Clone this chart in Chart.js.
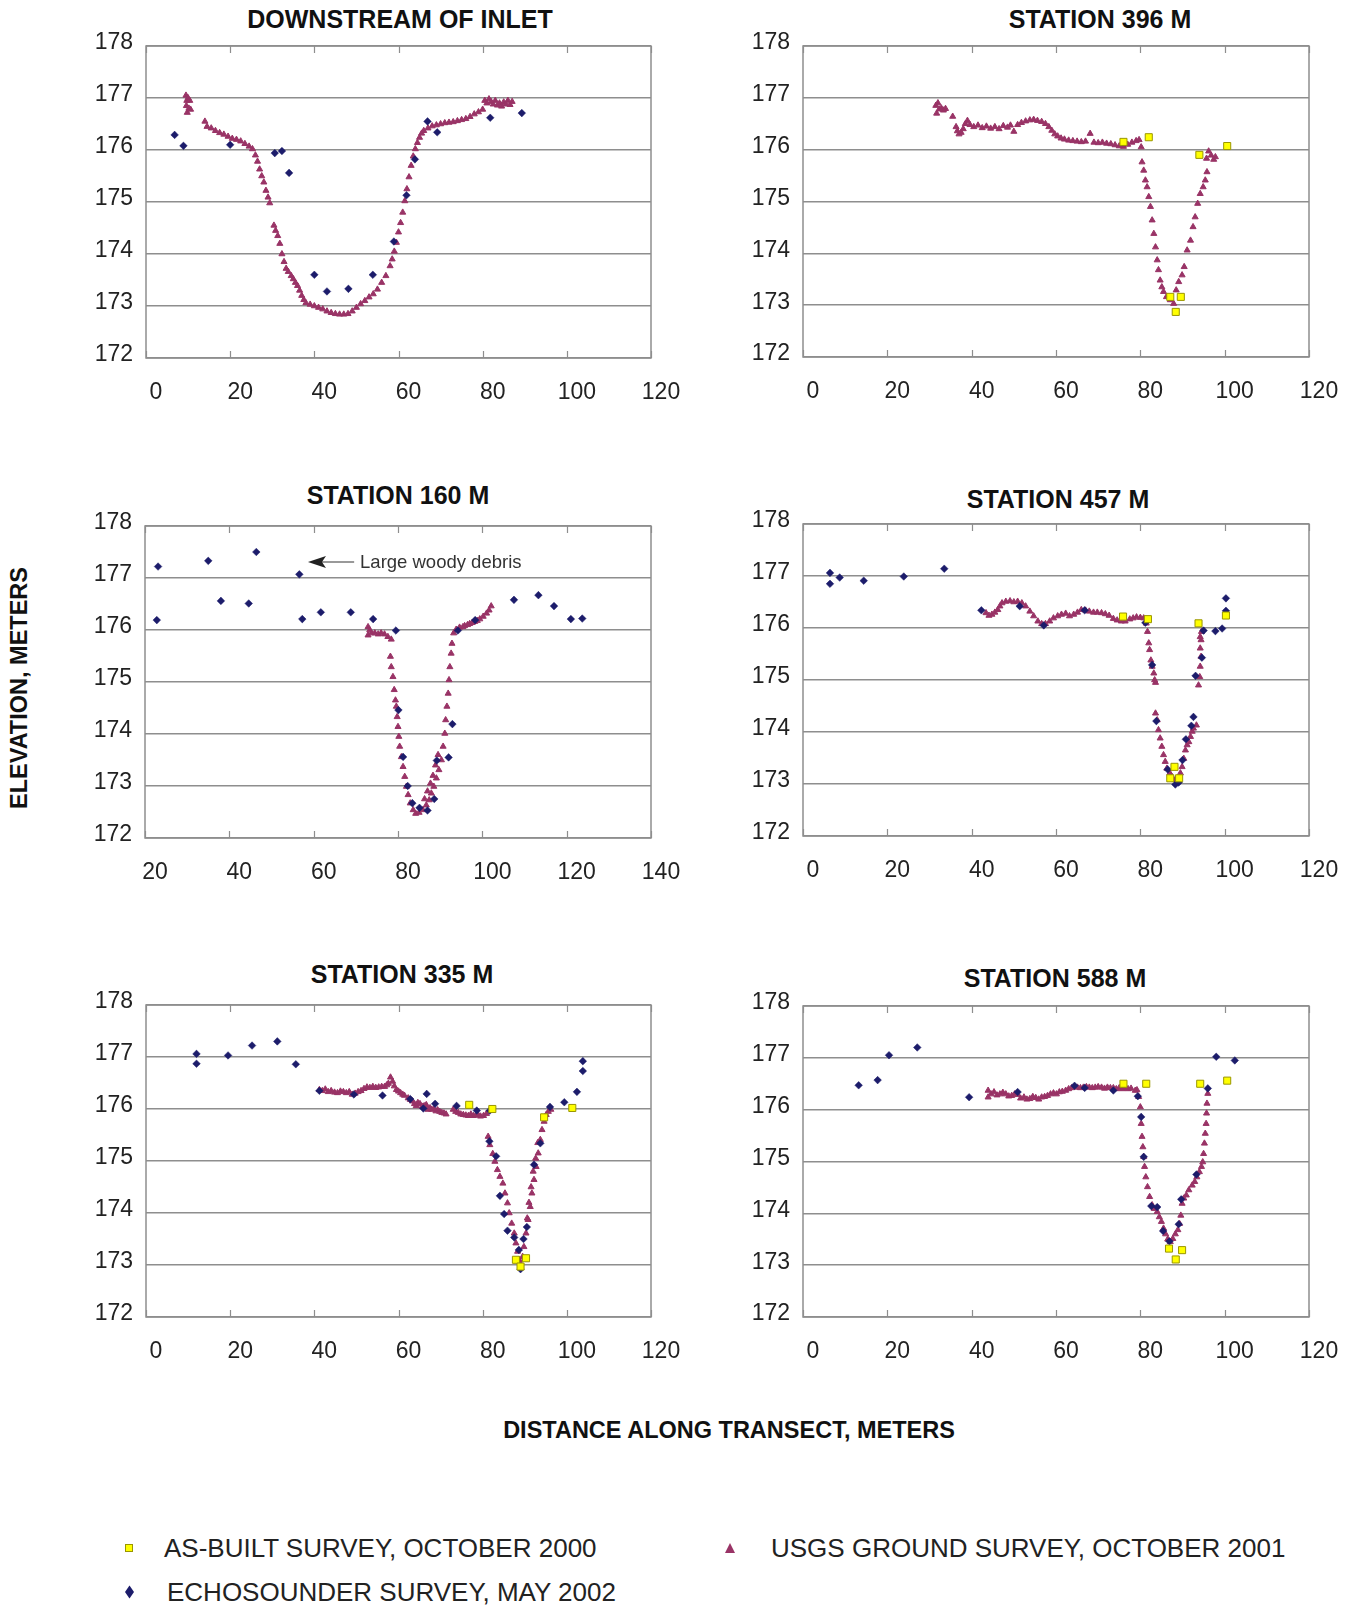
<!DOCTYPE html>
<html>
<head>
<meta charset="utf-8">
<title>Channel cross sections</title>
<script src="https://cdn.jsdelivr.net/npm/chart.js@4.4.1/dist/chart.umd.min.js"></script>
<style>
  html, body { margin: 0; padding: 0; background: #fff; }
  body { position: relative; width: 1363px; height: 1608px; overflow: hidden;
         font-family: "Liberation Sans", Arial, sans-serif; color: #1a1a1a; }
  canvas { position: absolute; }
  .ttl { position: absolute; font-weight: bold; font-size: 25px; line-height: 1; white-space: nowrap;
         transform: translate(-50%, -50%); color: #111; }
  .axis-title { position: absolute; font-weight: bold; font-size: 23.5px; line-height: 1; white-space: nowrap; color: #111; }
  .leg { position: absolute; font-size: 26px; line-height: 1; white-space: nowrap; transform: translateY(-50%); color: #222; }
  .mk { position: absolute; }
</style>
</head>
<body>

<div class="ttl" style="left:400px; top:19px;">DOWNSTREAM OF INLET</div>
<div class="ttl" style="left:1100px; top:19px;">STATION 396 M</div>
<div class="ttl" style="left:398px; top:495px;">STATION 160 M</div>
<div class="ttl" style="left:1058px; top:499px;">STATION 457 M</div>
<div class="ttl" style="left:402px; top:974px;">STATION 335 M</div>
<div class="ttl" style="left:1055px; top:978px;">STATION 588 M</div>

<canvas id="c1"></canvas>
<canvas id="c2"></canvas>
<canvas id="c3"></canvas>
<canvas id="c4"></canvas>
<canvas id="c5"></canvas>
<canvas id="c6"></canvas>

<div class="axis-title" style="left:20px; top:688px; transform: translate(-50%,-50%) rotate(-90deg);">ELEVATION, METERS</div>
<div class="axis-title" style="left:729px; top:1431px; transform: translate(-50%,-50%);">DISTANCE ALONG TRANSECT, METERS</div>

<!-- legend -->
<svg class="mk" style="left:124px; top:1543px;" width="10" height="10"><rect x="1.5" y="1.5" width="7" height="7" fill="#ffff00" stroke="#9a9600" stroke-width="1"/></svg>
<div class="leg" style="left:164px; top:1548px;">AS-BUILT SURVEY, OCTOBER 2000</div>
<svg class="mk" style="left:724px; top:1542px;" width="12" height="12"><polygon points="6,1 11,11 1,11" fill="#993366"/></svg>
<div class="leg" style="left:771px; top:1548px;">USGS GROUND SURVEY, OCTOBER 2001</div>
<svg class="mk" style="left:124px; top:1585px;" width="11" height="14"><polygon points="5.5,0.5 10,7 5.5,13.5 1,7" fill="#1c1c6b"/></svg>
<div class="leg" style="left:167px; top:1592px;">ECHOSOUNDER SURVEY, MAY 2002</div>

<script>
// ---------- axis ticks ----------
const elevationTicks = [172, 173, 174, 175, 176, 177, 178];
const distanceTicks = [0, 20, 40, 60, 80, 100, 120];
const distanceTicks160 = [20, 40, 60, 80, 100, 120, 140];

// ---------- DOWNSTREAM OF INLET ----------
const inletGround = [
  [9.5,177.05],[9.6,176.85],[9.7,176.95],[9.8,176.72],[10.0,177.0],[10.2,176.8],[10.4,176.95],[10.6,176.78],
  [14.0,176.55],[14.5,176.45],[15.5,176.42],[16.5,176.37],[17.5,176.33],[18.5,176.3],[19.5,176.26],[20.5,176.22],
  [21.5,176.2],[22.5,176.17],[23.5,176.12],[24.5,176.07],[25.3,176.02],[26.0,175.9],[26.5,175.78],[27.0,175.63],
  [27.5,175.5],[28.0,175.38],[28.5,175.22],[29.0,175.09],[29.4,174.98],
  [30.4,174.55],[30.8,174.45],[31.3,174.35],[31.8,174.2],[32.3,174.0],[32.8,173.85],[33.3,173.72],[33.8,173.66],
  [34.5,173.58],[35.0,173.52],[35.5,173.45],[36.0,173.39],[36.5,173.3],[37.0,173.2],[37.5,173.12],[38.0,173.06],
  [39.0,173.03],[40.0,173.0],[41.0,172.97],[42.0,172.94],[43.0,172.9],[44.0,172.87],[45.0,172.85],[46.0,172.84],
  [47.0,172.84],[48.0,172.85],[49.0,172.9],[50.0,172.97],[51.0,173.04],[52.0,173.1],[53.0,173.17],[54.0,173.23],
  [55.0,173.32],[56.0,173.45],[57.0,173.58],[58.0,173.77],[58.5,173.9],[59.0,174.05],[59.5,174.22],[60.0,174.42],
  [60.5,174.6],[61.0,174.8],[61.5,175.02],[62.0,175.25],[62.5,175.48],[63.0,175.7],[63.5,175.88],[64.0,176.02],
  [64.5,176.14],[65.0,176.24],[65.5,176.32],[66.0,176.37],[67.0,176.42],[68.0,176.46],[69.0,176.48],[70.0,176.5],
  [71.0,176.52],[72.0,176.53],[73.0,176.54],[74.0,176.56],[75.0,176.58],[76.0,176.6],[77.0,176.64],[78.0,176.69],
  [79.0,176.73],[80.0,176.78],[80.5,176.95],[81.0,176.9],[81.5,176.98],[82.0,176.93],[82.5,176.88],[83.0,176.95],
  [83.5,176.86],[84.0,176.9],[84.5,176.84],[85.0,176.92],[85.5,176.88],[86.0,176.95],[86.5,176.87],[87.0,176.93]
];
const inletEcho = [
  [6.8,176.29],[8.9,176.08],[20.0,176.1],[30.6,175.94],[32.3,175.98],[34.0,175.56],[40.0,173.6],[43.0,173.28],
  [48.1,173.33],[53.9,173.6],[58.9,174.24],[61.9,175.13],[63.9,175.82],[66.9,176.55],[69.2,176.34],[81.8,176.62],
  [89.3,176.71]
];
const inletAsBuilt = [];

// ---------- STATION 396 M ----------
const sta396Ground = [
  [31.5,176.85],[31.7,176.7],[32.0,176.9],[32.3,176.78],[32.8,176.8],[33.3,176.76],[33.8,176.79],[35.5,176.64],
  [36.3,176.44],[36.6,176.36],[37.0,176.3],[37.5,176.33],[38.0,176.4],[38.5,176.5],[39.0,176.56],[39.6,176.48],
  [40.5,176.44],[41.5,176.47],[42.5,176.42],[43.5,176.45],[44.5,176.41],[45.5,176.44],[46.5,176.4],[47.5,176.46],
  [48.5,176.43],[49.2,176.47],[50.0,176.35],[50.9,176.48],[51.8,176.52],[52.8,176.55],[53.8,176.57],[54.7,176.58],
  [55.6,176.56],[56.6,176.54],[57.5,176.5],[58.3,176.44],[59.0,176.37],[59.7,176.3],[60.4,176.26],[61.2,176.22],
  [62.0,176.2],[63.0,176.18],[64.0,176.17],[65.0,176.16],[66.0,176.15],[67.0,176.16],[68.1,176.31],[69.0,176.14],
  [70.0,176.13],[71.0,176.14],[72.0,176.12],[73.0,176.11],[74.0,176.09],[75.0,176.07],[76.0,176.06],[77.0,176.1],
  [78.0,176.14],[79.0,176.17],[79.7,176.19],[80.2,176.05],[80.4,175.76],[80.8,175.6],[81.2,175.41],[81.6,175.28],
  [82.0,175.09],[82.4,174.9],[82.8,174.64],[83.2,174.38],[83.6,174.12],[84.0,173.87],[84.3,173.68],[84.7,173.48],
  [85.1,173.35],[85.5,173.26],[86.2,173.16],[87.1,173.1],[87.9,173.03],[88.5,173.29],[89.1,173.45],[89.9,173.58],
  [90.4,173.74],[91.1,174.06],[91.9,174.25],[92.5,174.51],[93.0,174.7],[93.6,174.96],[94.2,175.15],[94.9,175.28],
  [95.4,175.41],[95.8,175.57],[95.7,175.83],[96.2,175.97],[96.8,175.89],[97.4,175.81],[97.8,175.86]
];
const sta396Echo = [];
const sta396AsBuilt = [
  [76.0,176.15],[82.0,176.24],[94.0,175.9],[100.6,176.07],[87.1,173.16],[89.6,173.16],[88.4,172.87]
];

// ---------- STATION 160 M ----------
const sta160Ground = [
  [72.9,176.06],[72.9,175.9],[73.3,176.0],[73.7,175.94],[74.5,175.94],[75.3,175.92],[76.0,175.94],[76.8,175.92],
  [77.6,175.87],[78.4,175.82],
  [78.2,175.49],[78.4,175.29],[78.8,175.1],[79.1,174.85],[79.4,174.65],[79.6,174.53],[79.8,174.33],[80.0,174.14],
  [80.2,173.95],[80.4,173.76],[80.8,173.56],[81.2,173.37],[81.6,173.18],[82.0,172.99],[82.4,172.83],[82.9,172.67],
  [83.6,172.54],[84.2,172.47],[85.0,172.49],[85.9,172.54],[86.3,172.75],[86.7,172.63],[87.0,172.9],[87.4,172.73],
  [87.7,173.05],[87.9,172.86],[88.3,173.2],[88.5,172.99],[88.9,173.4],[89.1,173.15],[89.5,173.6],[89.7,173.31],
  [90.3,173.5],[90.7,173.76],[91.1,174.01],[91.3,174.27],[91.6,174.53],[91.9,174.78],[92.1,175.04],[92.3,175.29],
  [92.6,175.55],[92.8,175.74],[93.2,175.94],[93.8,176.01],[94.6,176.05],[95.4,176.06],[95.8,176.08],[96.5,176.1],
  [97.0,176.12],[97.6,176.14],[98.2,176.16],[98.8,176.18],[99.4,176.21],[100.2,176.26],[101.0,176.32],[101.6,176.38],
  [102.1,176.46]
];
const sta160Echo = [
  [23.1,177.22],[22.8,176.19],[35.0,177.33],[38.0,176.56],[44.6,176.51],[46.4,177.5],[56.6,177.07],[57.3,176.21],
  [61.7,176.34],[68.8,176.34],[74.1,176.21],[79.5,175.99],[80.1,174.46],[81.2,173.56],[82.3,173.0],[83.4,172.67],
  [85.1,172.58],[87.0,172.53],[88.6,172.75],[89.2,173.49],[92.0,173.55],[92.9,174.19],[94.2,175.99],[98.3,176.19],
  [107.5,176.58],[113.3,176.67],[117.0,176.46],[121.0,176.21],[123.7,176.22]
];
const sta160AsBuilt = [];

// ---------- STATION 457 M ----------
const sta457Ground = [
  [43.4,176.29],[44.1,176.24],[44.8,176.26],[45.5,176.3],[46.2,176.35],[46.7,176.42],[47.2,176.48],[48.1,176.51],
  [49.1,176.52],[50.0,176.5],[50.9,176.51],[51.9,176.48],[52.8,176.42],[53.8,176.32],[54.7,176.23],[55.7,176.13],
  [56.6,176.08],[57.5,176.08],[58.5,176.13],[59.4,176.19],[60.4,176.23],[61.3,176.26],[62.3,176.28],[63.2,176.23],
  [64.2,176.26],[65.1,176.3],[66.0,176.35],[67.0,176.34],[67.9,176.32],[68.9,176.3],[69.8,176.3],[70.8,176.29],
  [71.7,176.27],[72.6,176.24],[73.6,176.18],[74.5,176.15],[75.5,176.13],[76.4,176.13],[77.5,176.17],[78.3,176.19],
  [79.1,176.21],[80.0,176.2],[80.8,176.19],[81.4,176.09],[81.7,175.93],[82.0,175.71],[82.2,175.58],[82.5,175.38],
  [82.8,175.26],[83.2,175.13],[83.4,175.0],[83.6,174.95],
  [83.6,174.36],[84.0,174.23],[84.3,174.04],[84.7,173.88],[85.1,173.72],[85.5,173.56],[85.9,173.43],[86.3,173.3],
  [87.0,173.21],[87.5,173.14],[88.3,173.08],[89.1,173.11],[89.5,173.21],[89.9,173.33],[90.3,173.49],[90.7,173.65],
  [91.1,173.75],[91.5,173.81],[91.9,173.91],[92.3,174.01],[92.6,174.07],[93.3,174.13],
  [93.8,174.9],[94.1,175.06],[94.2,175.26],[94.4,175.45],[94.2,175.61],[94.4,175.77],[94.5,175.93],[94.2,175.83]
];
const sta457Echo = [
  [6.4,177.06],[6.4,176.85],[8.7,176.97],[14.4,176.91],[23.9,176.99],[33.5,177.14],[42.3,176.34],[51.4,176.42],
  [57.1,176.05],[66.8,176.34],[81.2,176.1],[82.8,175.29],[83.8,174.21],[86.5,173.28],[88.3,172.99],[89.1,173.03],
  [90.0,173.46],[90.8,173.86],[92.1,174.12],[92.6,174.29],[93.1,175.08],[94.6,175.43],[95.0,175.95],[97.8,175.94],
  [99.4,175.99],[100.3,176.57],[100.3,176.33]
];
const sta457AsBuilt = [
  [75.9,176.22],[81.8,176.17],[93.8,176.09],[100.3,176.24],[88.1,173.33],[87.1,173.11],[89.2,173.11]
];

// ---------- STATION 335 M ----------
const sta335Ground = [
  [41.2,176.37],[41.9,176.35],[42.6,176.38],[43.3,176.33],[44.0,176.35],[44.8,176.32],[45.5,176.31],[46.2,176.34],
  [46.9,176.33],[47.6,176.31],[48.3,176.33],[49.0,176.28],[49.7,176.3],[50.4,176.33],[51.1,176.35],[51.8,176.39],
  [52.5,176.42],[53.2,176.41],[53.9,176.43],[54.6,176.41],[55.3,176.42],[56.0,176.43],[56.7,176.43],[57.2,176.46],
  [57.6,176.49],[58.1,176.61],[58.6,176.53],[59.0,176.44],[59.5,176.37],[60.0,176.34],[60.5,176.31],[61.0,176.28],
  [61.4,176.26],[62.3,176.21],[62.8,176.18],[63.3,176.15],[63.8,176.1],[64.2,176.06],[64.6,176.12],[65.1,176.1],
  [65.6,176.05],[66.1,176.06],[66.6,176.08],[67.0,175.99],[67.5,176.02],[67.9,175.99],[68.4,176.0],[68.9,175.96],
  [69.3,175.98],[69.8,175.95],[70.3,175.93],[70.8,175.92],[71.3,175.9],
  [73.0,175.99],[73.6,175.95],[74.2,175.93],[74.8,175.9],[75.4,175.89],[76.0,175.88],[76.6,175.87],[77.2,175.9],
  [77.8,175.87],[78.4,175.88],[78.9,175.89],[79.5,175.86],[80.2,175.87],[80.9,175.91],
  [81.3,175.47],[81.7,175.31],[82.4,175.14],[82.9,174.99],[83.5,174.83],[84.1,174.7],[84.8,174.57],[85.3,174.38],
  [85.9,174.19],[86.3,174.0],[86.9,173.8],[87.5,173.61],[87.9,173.42],[88.3,173.26],[88.7,173.1],[89.0,173.03],
  [89.5,173.16],[89.8,173.35],[90.3,173.61],[90.6,173.9],[90.8,173.87],[91.0,174.2],[91.3,174.12],[91.5,174.5],
  [91.7,174.38],[92.0,174.8],[92.2,174.64],[92.6,175.05],[92.7,174.89],[93.1,175.35],[93.2,175.15],[93.7,175.41],
  [94.1,175.6],[94.6,175.76],[95.1,175.89],[95.6,175.95],[96.2,175.99]
];
const sta335Echo = [
  [12.0,177.06],[12.0,176.87],[19.5,177.03],[25.2,177.22],[31.2,177.3],[35.6,176.86],[41.2,176.35],[49.4,176.28],
  [56.2,176.26],[62.8,176.19],[65.9,176.01],[66.7,176.29],[68.7,176.1],[73.8,176.06],[78.6,175.97],[81.7,175.97],
  [81.6,175.38],[83.2,175.09],[84.1,174.33],[85.1,173.98],[85.9,173.66],[87.5,173.53],[88.6,173.29],[89.0,172.92],
  [89.7,173.5],[90.5,173.73],[92.2,174.93],[93.7,175.34],[96.0,176.04],[99.4,176.13],[102.4,176.33],[103.8,176.73],
  [103.8,176.92]
];
const sta335AsBuilt = [
  [76.8,176.08],[82.3,176.0],[94.6,175.84],[101.3,176.02],[87.9,173.1],[90.3,173.13],[89.0,172.97]
];

// ---------- STATION 588 M ----------
const sta588Ground = [
  [43.9,176.37],[43.9,176.24],[44.6,176.3],[45.3,176.34],[46.0,176.28],[46.7,176.3],[47.4,176.33],[48.1,176.3],
  [48.8,176.26],[49.5,176.27],[50.2,176.3],[50.9,176.29],[51.6,176.22],[52.4,176.24],[53.1,176.2],[53.8,176.21],
  [54.5,176.25],[55.2,176.23],[55.9,176.2],[56.6,176.24],[57.3,176.25],[58.0,176.27],[58.7,176.3],[59.4,176.32],
  [60.1,176.3],[60.8,176.34],[61.5,176.35],[62.3,176.37],[63.0,176.4],[63.7,176.42],[64.4,176.44],[65.1,176.43],
  [65.8,176.42],[66.5,176.43],[67.2,176.44],[67.9,176.43],[68.6,176.42],[69.3,176.43],[70.0,176.44],[70.8,176.43],
  [71.5,176.41],[72.2,176.43],[72.9,176.42],[73.6,176.42],[74.3,176.4],[75.0,176.42],[75.7,176.4],[76.4,176.42],
  [77.1,176.4],[77.8,176.41],[78.8,176.37],[79.2,176.38],[79.6,176.25],[80.0,176.05],[80.2,175.73],[80.4,175.48],
  [80.6,175.28],[80.8,175.09],[81.0,174.9],[81.3,174.7],[81.7,174.51],[82.2,174.32],[82.8,174.16],[83.3,174.09],
  [84.0,174.03],[84.5,173.93],[85.0,173.84],[85.5,173.71],[86.0,173.6],[86.5,173.5],[87.1,173.45],[87.7,173.51],
  [88.3,173.6],[88.9,173.68],[89.3,173.8],[89.6,173.96],[89.9,174.19],[90.3,174.29],[90.9,174.35],[91.5,174.45],
  [92.3,174.54],[92.9,174.61],[93.4,174.7],[94.0,174.8],[94.5,174.9],[94.8,174.99],[95.0,175.15],[95.2,175.35],
  [95.4,175.54],[95.6,175.73],[95.7,175.93],[95.8,176.12],[96.0,176.31]
];
const sta588Echo = [
  [13.2,176.47],[17.7,176.57],[20.4,177.05],[27.1,177.2],[39.4,176.24],[50.9,176.34],[64.4,176.46],[66.8,176.42],
  [73.6,176.37],[79.4,176.26],[80.2,175.86],[80.8,175.09],[82.6,174.14],[84.0,174.12],[85.4,173.66],[86.9,173.46],
  [89.1,173.79],[89.7,174.27],[93.3,174.75],[96.0,176.41],[98.0,177.02],[102.4,176.95]
];
const sta588AsBuilt = [
  [76.0,176.5],[81.4,176.5],[94.2,176.5],[100.6,176.56],[86.8,173.32],[89.9,173.29],[88.4,173.11]
];

// ---------- annotation on the 160 m section (data coordinates) ----------
const debrisNote = { text: 'Large woody debris', tipX: 58.65, lineEndX: 69.6, textX: 71.0, y: 177.31 };

// ---------- styling / layout ----------
const FONT = '"Liberation Sans", Arial, sans-serif';
const GRID = '#8e8e8e';
const PAD = { left: 100, top: 40, right: 55, bottom: 60 };

const panels = [
  { id: 'c1', box: [146, 46, 651, 358],   range: [0, 120],  xt: distanceTicks,    g: inletGround,  e: inletEcho,  a: inletAsBuilt },
  { id: 'c2', box: [803, 46, 1309, 357],  range: [0, 120],  xt: distanceTicks,    g: sta396Ground, e: sta396Echo, a: sta396AsBuilt },
  { id: 'c3', box: [145, 526, 651, 838],  range: [20, 140], xt: distanceTicks160, g: sta160Ground, e: sta160Echo, a: sta160AsBuilt, note: debrisNote },
  { id: 'c4', box: [803, 524, 1309, 836], range: [0, 120],  xt: distanceTicks,    g: sta457Ground, e: sta457Echo, a: sta457AsBuilt },
  { id: 'c5', box: [146, 1005, 651, 1317], range: [0, 120], xt: distanceTicks,    g: sta335Ground, e: sta335Echo, a: sta335AsBuilt },
  { id: 'c6', box: [803, 1006, 1309, 1317], range: [0, 120], xt: distanceTicks,   g: sta588Ground, e: sta588Echo, a: sta588AsBuilt }
];

const toXY = arr => arr.map(p => ({ x: p[0], y: p[1] }));

// plot frame with short inward ticks at each distance tick
const framePlugin = {
  id: 'frame',
  beforeDatasetsDraw(chart) {
    const { ctx, chartArea: ca, scales: { x } } = chart;
    ctx.save();
    ctx.strokeStyle = GRID;
    ctx.lineWidth = 1.5;
    ctx.strokeRect(ca.left, ca.top, ca.right - ca.left, ca.bottom - ca.top);
    ctx.lineWidth = 1.2;
    x.ticks.forEach(t => {
      const px = Math.round(x.getPixelForValue(t.value)) + 0.5;
      ctx.beginPath();
      ctx.moveTo(px, ca.top); ctx.lineTo(px, ca.top + 7);
      ctx.moveTo(px, ca.bottom); ctx.lineTo(px, ca.bottom - 7);
      ctx.stroke();
    });
    ctx.restore();
  }
};

// arrow + text note
const notePlugin = {
  id: 'note',
  afterDatasetsDraw(chart, args, opts) {
    const n = opts && opts.note;
    if (!n) return;
    const { ctx, scales: { x, y } } = chart;
    const tip = x.getPixelForValue(n.tipX);
    const end = x.getPixelForValue(n.lineEndX);
    const py = y.getPixelForValue(n.y);
    ctx.save();
    ctx.strokeStyle = '#777';
    ctx.lineWidth = 1.5;
    ctx.beginPath();
    ctx.moveTo(tip + 12, py); ctx.lineTo(end, py);
    ctx.stroke();
    ctx.fillStyle = '#222';
    ctx.beginPath();
    ctx.moveTo(tip, py);
    ctx.lineTo(tip + 18, py - 6);
    ctx.lineTo(tip + 14, py);
    ctx.lineTo(tip + 18, py + 6);
    ctx.closePath();
    ctx.fill();
    ctx.fillStyle = '#333';
    ctx.font = '18.5px ' + FONT;
    ctx.textBaseline = 'middle';
    ctx.textAlign = 'left';
    ctx.fillText(n.text, x.getPixelForValue(n.textX), py + 1);
    ctx.restore();
  }
};

panels.forEach(p => {
  const [L, T, R, B] = p.box;
  const cv = document.getElementById(p.id);
  const w = (R - L) + PAD.left + PAD.right;
  const h = (B - T) + PAD.top + PAD.bottom;
  cv.width = w; cv.height = h;
  cv.style.width = w + 'px'; cv.style.height = h + 'px';
  cv.style.left = (L - PAD.left) + 'px';
  cv.style.top = (T - PAD.top) + 'px';

  new Chart(cv, {
    type: 'scatter',
    data: {
      datasets: [
        { label: 'AS-BUILT SURVEY, OCTOBER 2000', data: toXY(p.a), order: 1,
          pointStyle: 'rect', pointRadius: 5, backgroundColor: '#ffff00', borderColor: '#9a9600', borderWidth: 1 },
        { label: 'ECHOSOUNDER SURVEY, MAY 2002', data: toXY(p.e), order: 2,
          pointStyle: 'rectRot', pointRadius: 3.8, backgroundColor: '#1c1c6b', borderColor: '#1c1c6b', borderWidth: 0.5 },
        { label: 'USGS GROUND SURVEY, OCTOBER 2001', data: toXY(p.g), order: 3,
          pointStyle: 'triangle', pointRadius: 3.5, backgroundColor: '#993366', borderColor: '#993366', borderWidth: 1 }
      ]
    },
    options: {
      responsive: false,
      animation: false,
      events: [],
      layout: { autoPadding: false, padding: { left: 0, top: PAD.top, right: PAD.right, bottom: 0 } },
      plugins: { legend: { display: false }, tooltip: { enabled: false }, note: { note: p.note || null } },
      scales: {
        x: {
          type: 'linear', min: p.range[0], max: p.range[1],
          afterBuildTicks: s => { s.ticks = p.xt.map(v => ({ value: v })); },
          afterFit: s => { s.height = PAD.bottom; },
          ticks: { font: { family: FONT, size: 23 }, color: '#222', padding: 21, labelOffset: 10,
                   maxRotation: 0, autoSkip: false },
          grid: { display: false, drawTicks: false },
          border: { display: false }
        },
        y: {
          type: 'linear', min: 172, max: 178,
          afterBuildTicks: s => { s.ticks = elevationTicks.map(v => ({ value: v })); },
          afterFit: s => { s.width = PAD.left; },
          ticks: { font: { family: FONT, size: 23 }, color: '#222', padding: 13, labelOffset: -3 },
          grid: { color: GRID, lineWidth: 1.5, drawTicks: false },
          border: { display: false }
        }
      }
    },
    plugins: [framePlugin, notePlugin]
  });
});
</script>
</body>
</html>
